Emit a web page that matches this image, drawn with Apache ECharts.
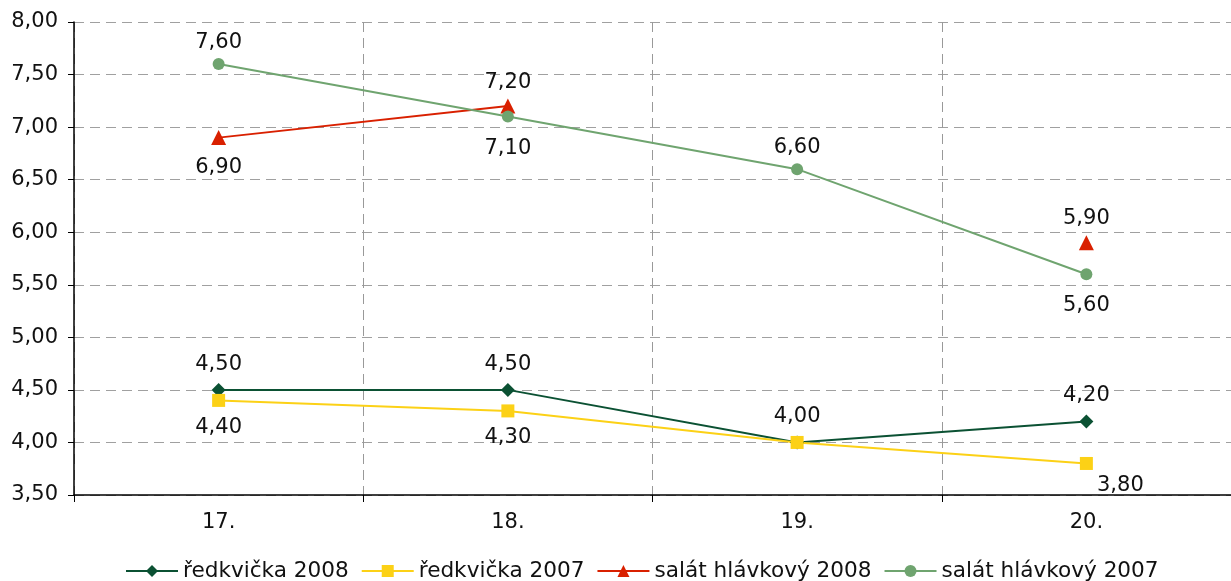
<!DOCTYPE html>
<html>
<head>
<meta charset="utf-8">
<script src="https://cdn.jsdelivr.net/npm/echarts@6/dist/echarts.min.js"></script>
<style>
html, body { margin: 0; padding: 0; background: #fff; }
#chart { width: 1231px; height: 581px; }
</style>
</head>
<body>
<div id="chart"></div>
<script>
// kategorie (týdny)
const weeks = ['17.', '18.', '19.', '20.'];

const redkvicka2008 = [4.5, 4.5, 4.0, 4.2];
const redkvicka2007 = [4.4, 4.3, 4.0, 3.8];
const salat2008 = [6.9, 7.2, null, 5.9];
const salat2007 = [7.6, 7.1, 6.6, 5.6];

// pozice popisků u jednotlivých bodů
const posR2008 = ['top', 'top', 'top', 'top'];
const posR2007 = ['bottom', 'bottom', 'none', 'right'];
const posS2008 = ['bottom', 'top', 'none', 'top'];
const posS2007 = ['top', 'bottom', 'top', 'bottom'];

const font = 'DejaVu Sans, Verdana, sans-serif';
const fmt = v => v.toFixed(2).replace('.', ',');

function makeSeries(name, values, positions, color, symbol, size, topDist, botDist) {
	return {
		name: name,
		type: 'line',
		data: values.map((v, i) => {
			if (v === null) return null;
			const p = positions[i];
			const item = { value: v };
			if (p === 'none') {
				item.label = { show: false };
			} else if (p === 'right') {
				item.label = { position: 'bottom', distance: 5, offset: [34, 0] };
			} else {
				item.label = { position: p, distance: p === 'top' ? topDist : botDist };
			}
			return item;
		}),
		symbol: symbol,
		symbolSize: size,
		showAllSymbol: true,
		connectNulls: false,
		lineStyle: { color: color, width: 2 },
		itemStyle: { color: color },
		label: {
			show: true,
			color: '#111',
			fontSize: 21,
			fontFamily: font,
			formatter: p => fmt(p.value)
		},
		emphasis: { disabled: true },
		animation: false
	};
}

const chart = echarts.init(document.getElementById('chart'));
chart.setOption({
	animation: false,
	grid: { left: 74, right: -3, top: 22, bottom: 86 },
	legend: {
		top: 560,
		left: 125,
		padding: 0,
		itemWidth: 52,
		itemHeight: 15,
		itemGap: 12,
		textStyle: { fontSize: 21.6, fontFamily: font, color: '#111' },
		data: [
			{ name: 'ředkvička 2008' },
			{ name: 'ředkvička 2007' },
			{ name: 'salát hlávkový 2008' },
			{ name: 'salát hlávkový 2007' }
		]
	},
	xAxis: {
		type: 'category',
		data: weeks,
		boundaryGap: true,
		axisLine: { lineStyle: { color: '#000', width: 1.5 } },
		axisTick: { show: true, length: 7, lineStyle: { color: '#000' } },
		axisLabel: { fontSize: 21, fontFamily: font, color: '#111', margin: 17 },
		splitLine: { show: true, lineStyle: { color: '#999', type: [10, 6] } }
	},
	yAxis: {
		type: 'value',
		min: 3.5,
		max: 8,
		interval: 0.5,
		axisLine: { show: true, lineStyle: { color: '#000', width: 1.5 } },
		axisTick: { show: true, length: 6, lineStyle: { color: '#000' } },
		axisLabel: { fontSize: 21, fontFamily: font, color: '#111', margin: 16, formatter: v => fmt(v) },
		splitLine: { show: true, lineStyle: { color: '#a0a0a0', type: [10, 6] } }
	},
	series: [
		makeSeries('ředkvička 2008', redkvicka2008, posR2008, '#0b5133', 'diamond', 14, 8, 10),
		makeSeries('ředkvička 2007', redkvicka2007, posR2007, '#fcd116', 'rect', 13, 8, 10),
		makeSeries('salát hlávkový 2008', salat2008, posS2008, '#d92000', 'triangle', 15, 6, 12),
		makeSeries('salát hlávkový 2007', salat2007, posS2007, '#6fa46f', 'circle', 12, 5, 15)
	]
});
</script>
</body>
</html>
